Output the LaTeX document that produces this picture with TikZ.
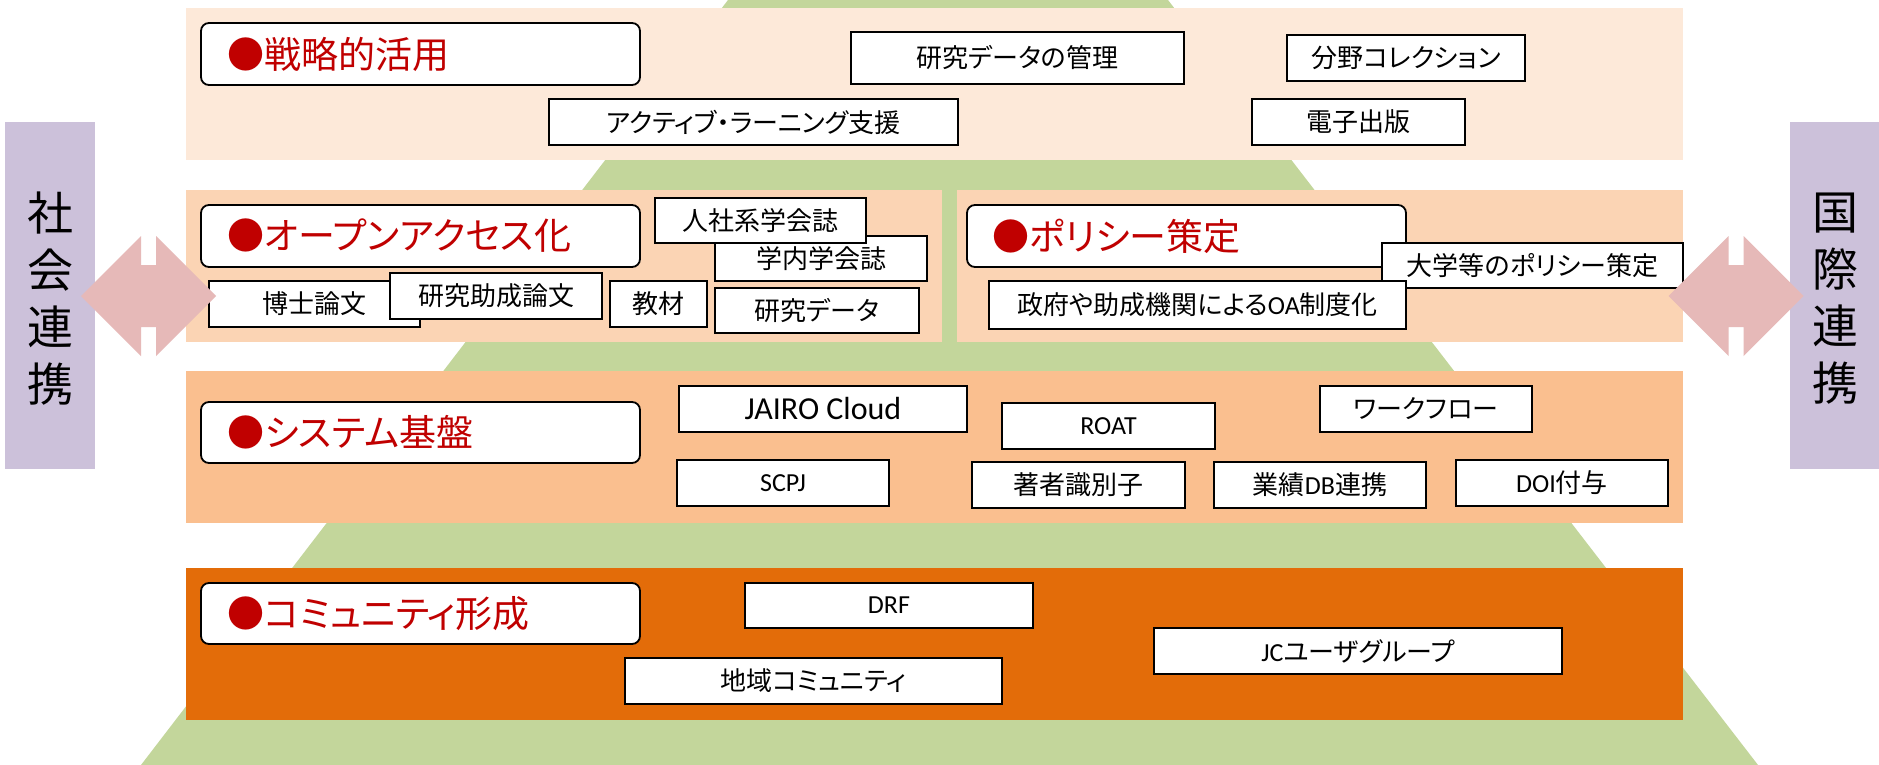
\documentclass[tikz,border=0pt]{standalone}
\usepackage{fontspec}
\setmainfont[RawFeature=+palt]{Noto Sans CJK JP}
\newfontfamily\lat{Carlito}
\definecolor{bandA}{HTML}{FDE9D9}
\definecolor{bandB}{HTML}{FBD4B4}
\definecolor{bandC}{HTML}{FABF8F}
\definecolor{bandD}{HTML}{E36C09}
\definecolor{pyr}{HTML}{C3D69B}
\definecolor{lav}{HTML}{CCC1DA}
\definecolor{pinkarr}{HTML}{E6B9B8}
\definecolor{titlered}{HTML}{C00000}
\tikzset{
  itembox/.style={draw=black, line width=0.9pt, fill=white, inner sep=0pt, text=black,
    font=\fontsize{13}{15.6}\selectfont},
  titlebox/.style={itembox, rounded corners=4pt},
  titletext/.style={anchor=west, inner sep=0pt, text=titlered, font=\fontsize{18.5}{22}\selectfont},
  verttext/.style={align=center, inner sep=0pt, text=black, font=\fontsize{23}{28.5}\selectfont},
}
\newcommand\boxat[7][itembox]{%
  \node[#1, minimum width={(#5-#3)*0.5pt}, minimum height={(#6-#4)*0.5pt}] (#2) at ({(#3+#5)/2},{(#4+#6)/2}) {#7};}
\newcommand\dblarrowshape{%
  (-67.5,0) -- (-7.5,-60) -- (-7.5,-31) -- (7.5,-31) -- (7.5,-60) -- (67.5,0) --
  (7.5,60) -- (7.5,31) -- (-7.5,31) -- (-7.5,60) -- cycle}
\begin{document}
\begin{tikzpicture}[x=0.5pt, y=-0.5pt]
\useasboundingbox (0,0) rectangle (1879,765);
\fill[white] (0,0) rectangle (1879,765);
% pyramid
\fill[pyr] (728,0) -- (1168,0) -- (1758,765) -- (141,765) -- cycle;
% bands
\fill[bandA] (186,8) rectangle (1683,160);
\fill[bandB] (186,190) rectangle (942,342);
\fill[bandB] (957,190) rectangle (1683,342);
\fill[bandC] (186,371) rectangle (1683,523);
\fill[bandD] (186,568) rectangle (1683,720);
% side panels
\fill[lav] (5,122) rectangle (95,469);
\fill[lav] (1790,122) rectangle (1879,469);
\node[verttext] (leftlabel) at (50,299) {社\\会\\連\\携};
\node[verttext] (rightlabel) at (1835,299) {国\\際\\連\\携};

% band 1
\boxat[titlebox]{t1}{201}{23}{640}{85}{}
\node[titletext] (t1txt) at ([xshift=13.5pt]t1.west) {●戦略的活用};
\boxat{b11}{851}{32}{1184}{84}{研究データの管理}
\boxat{b12}{1287}{35}{1525}{81}{分野コレクション}
\boxat{b13}{549}{99}{958}{145}{アクティブ・ラーニング支援}
\boxat{b14}{1252}{99}{1465}{145}{電子出版}

% band 2 left
\boxat[titlebox]{t2}{201}{205}{640}{267}{}
\node[titletext] (t2txt) at ([xshift=13.5pt]t2.west) {●オープンアクセス化};
\boxat{b22}{715}{236}{927}{281}{学内学会誌}
\boxat{b21}{655}{198}{866}{243}{人社系学会誌}
\boxat{b23}{209}{281}{420}{327}{博士論文}
\boxat{b24}{390}{273}{602}{319}{研究助成論文}
\boxat{b25}{610}{281}{707}{327}{教材}
\boxat{b26}{715}{288}{919}{333}{研究データ}

% band 2 right
\boxat[titlebox]{t5}{967}{205}{1406}{267}{}
\node[titletext] (t5txt) at ([xshift=13pt]t5.west) {●ポリシー策定};
\boxat{b27}{1382}{243}{1683}{288}{大学等のポリシー策定}
\boxat{b28}{989}{281}{1406}{329}{政府や助成機関による{\lat OA}制度化}

% band 3
\boxat[titlebox]{t3}{201}{402}{640}{463}{}
\node[titletext] (t3txt) at ([xshift=13.5pt]t3.west) {●システム基盤};
\boxat{b31}{679}{386}{967}{432}{\lat\fontsize{16}{19}\selectfont JAIRO Cloud}
\boxat{b32}{677}{460}{889}{506}{\lat SCPJ}
\boxat{b33}{1002}{403}{1215}{449}{\lat ROAT}
\boxat{b34}{1320}{386}{1532}{432}{ワークフロー}
\boxat{b35}{972}{462}{1185}{508}{著者識別子}
\boxat{b36}{1214}{462}{1426}{508}{業績{\lat DB}連携}
\boxat{b37}{1456}{460}{1668}{506}{{\lat DOI}付与}

% band 4
\boxat[titlebox]{t4}{201}{583}{640}{644}{}
\node[titletext] (t4txt) at ([xshift=13.5pt]t4.west) {●コミュニティ形成};
\boxat{b41}{745}{583}{1033}{628}{\lat DRF}
\boxat{b42}{625}{658}{1002}{704}{地域コミュニティ}
\boxat{b43}{1154}{628}{1562}{674}{{\lat JC}ユーザグループ}

% double arrows
\begin{scope}[shift={(148.5,296)}]
  \fill[pinkarr] \dblarrowshape;
\end{scope}
\begin{scope}[shift={(1736,296)}]
  \fill[pinkarr] \dblarrowshape;
\end{scope}
\end{tikzpicture}
\end{document}
